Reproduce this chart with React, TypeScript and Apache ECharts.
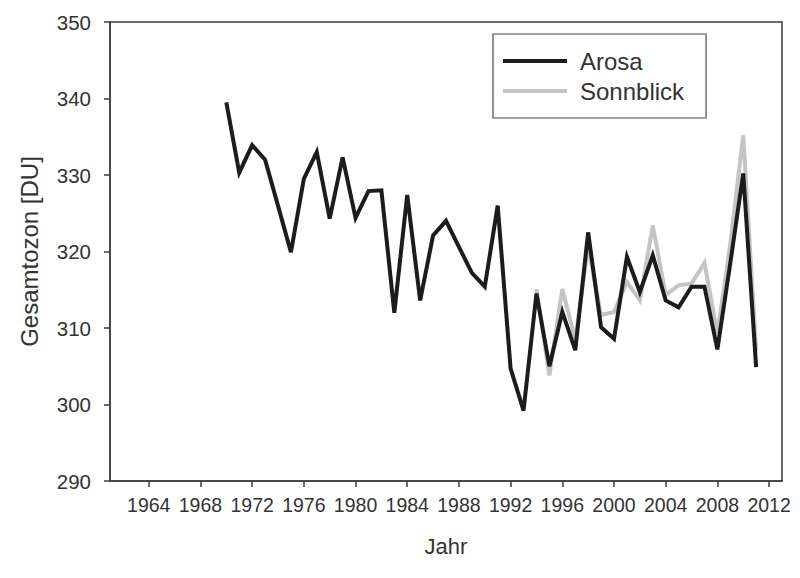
import React, { useEffect, useRef } from "react";
import * as echarts from "echarts";

const arosaYears = [
  1970, 1971, 1972, 1973, 1974, 1975, 1976, 1977, 1978, 1979, 1980, 1981, 1982, 1983,
  1984, 1985, 1986, 1987, 1988, 1989, 1990, 1991, 1992, 1993, 1994, 1995, 1996, 1997,
  1998, 1999, 2000, 2001, 2002, 2003, 2004, 2005, 2006, 2007, 2008, 2009, 2010, 2011,
];
const arosaValues = [
  339.5, 330.3, 333.9, 332.0, 326.0, 319.9, 329.5, 333.0, 324.3, 332.3, 324.4, 327.9, 328.0, 312.0,
  327.4, 313.6, 322.1, 324.0, 320.6, 317.2, 315.4, 326.0, 304.7, 299.2, 314.5, 305.0, 312.1, 307.1,
  322.5, 310.1, 308.6, 319.3, 314.7, 319.5, 313.6, 312.7, 315.4, 315.4, 307.2, 318.5, 330.2, 304.9,
];
const sonnblickYears = [
  1994, 1995, 1996, 1997, 1998, 1999, 2000, 2001, 2002, 2003, 2004, 2005, 2006, 2007,
  2008, 2009, 2010, 2011,
];
const sonnblickValues = [
  315.1, 303.8, 315.1, 308.5, 320.6, 311.7, 312.1, 316.0, 313.6, 323.4, 314.3, 315.6, 315.8, 318.5,
  309.3, 321.0, 335.2, 307.0,
];
const xTickLabels = [1964, 1968, 1972, 1976, 1980, 1984, 1988, 1992, 1996, 2000, 2004, 2008, 2012];
const yTickLabels = [290, 300, 310, 320, 330, 340, 350];

const FONT = "'Liberation Sans', Arial, Helvetica, sans-serif";
const AXIS = "#3c3c3c";
const TEXT = "#333333";
const AROSA_COLOR = "#1c1c1c";
const SONN_COLOR = "#c4c4c4";

export default function App() {
  const ref = useRef<HTMLDivElement>(null);
  useEffect(() => {
    if (!ref.current) return;
    const chart = echarts.init(ref.current, null, { renderer: "svg" });
    const zip = (xs: number[], ys: number[]) => xs.map((x, i) => [x, ys[i]]);
    chart.setOption({
      animation: false,
      backgroundColor: "#ffffff",
      textStyle: { fontFamily: FONT },
      grid: {
        left: 110,
        right: 18,
        top: 22,
        bottom: 97,
        show: true,
        borderColor: AXIS,
        borderWidth: 1.5,
        backgroundColor: "transparent",
      },
      legend: {
        data: ["Arosa", "Sonnblick"],
        orient: "vertical",
        left: 493,
        top: 34,
        padding: [13, 22, 13, 10],
        icon: "rect",
        itemWidth: 64,
        itemHeight: 4,
        itemGap: 2,
        borderColor: "#4a4a4a",
        borderWidth: 1.2,
        textStyle: {
          fontFamily: FONT,
          fontSize: 24,
          lineHeight: 28,
          color: TEXT,
          padding: [0, 0, 0, 8],
        },
      },
      xAxis: {
        type: "value",
        min: 1961,
        max: 2013,
        name: "Jahr",
        nameLocation: "middle",
        nameGap: 54,
        nameTextStyle: { fontFamily: FONT, fontSize: 22, color: TEXT },
        splitLine: { show: false },
        axisLine: { show: true, lineStyle: { color: AXIS, width: 1.5 } },
        axisTick: {
          show: true,
          length: 6,
          inside: false,
          customValues: xTickLabels,
          lineStyle: { color: AXIS, width: 1.5 },
        },
        axisLabel: {
          customValues: xTickLabels,
          formatter: (v: number) => String(v),
          fontFamily: FONT,
          fontSize: 19.5,
          color: TEXT,
          margin: 14,
        },
      },
      yAxis: {
        type: "value",
        min: 290,
        max: 350,
        interval: 10,
        name: "Gesamtozon [DU]",
        nameLocation: "middle",
        nameRotate: 90,
        nameGap: 69,
        nameTextStyle: { fontFamily: FONT, fontSize: 24, color: TEXT },
        splitLine: { show: false },
        axisLine: { show: true, lineStyle: { color: AXIS, width: 1.5 } },
        axisTick: {
          show: true,
          length: 6,
          inside: false,
          customValues: yTickLabels,
          lineStyle: { color: AXIS, width: 1.5 },
        },
        axisLabel: {
          customValues: yTickLabels,
          fontFamily: FONT,
          fontSize: 20.5,
          color: TEXT,
          margin: 19,
        },
      },
      series: [
        {
          name: "Sonnblick",
          type: "line",
          data: zip(sonnblickYears, sonnblickValues),
          symbol: "none",
          lineStyle: { color: SONN_COLOR, width: 4, join: "miter" },
          itemStyle: { color: SONN_COLOR },
          z: 2,
        },
        {
          name: "Arosa",
          type: "line",
          data: zip(arosaYears, arosaValues),
          symbol: "none",
          lineStyle: { color: AROSA_COLOR, width: 4, join: "miter" },
          itemStyle: { color: AROSA_COLOR },
          z: 3,
        },
      ],
    });
    return () => chart.dispose();
  }, []);
  return (
    <div
      ref={ref}
      style={{ position: "fixed", left: 0, top: 0, width: 800, height: 578, background: "#fff" }}
    />
  );
}
